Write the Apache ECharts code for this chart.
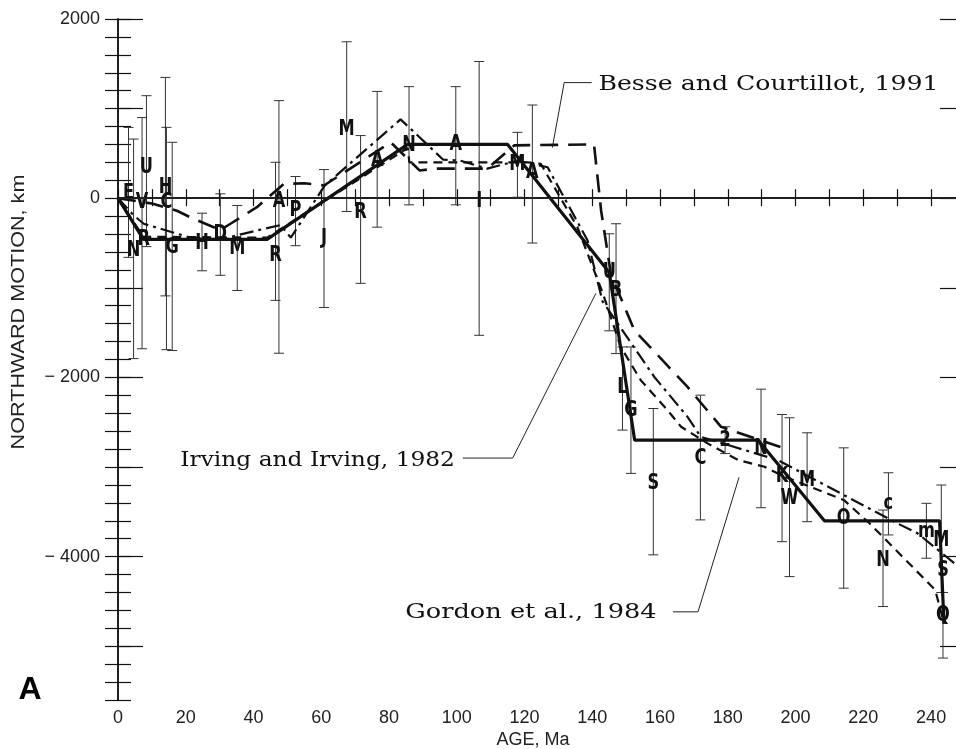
<!DOCTYPE html>
<html><head><meta charset="utf-8">
<script src="https://cdn.jsdelivr.net/npm/echarts@6/dist/echarts.min.js"></script>
<style>html,body{margin:0;padding:0;background:#fff}#c{width:956px;height:749px}</style>
</head><body><div id="c"></div>
<script>
// ---- curves (age Ma, northward motion km) ----
const solidAge = [0, 7.5, 44, 85.5, 115, 145, 152.5, 189, 208.5, 242.5, 243.8];
const solidVal = [0, -460, -460, 600, 600, -830, -2700, -2700, -3600, -3600, -4750];

const besseAge = [0, 10, 17.4, 22.3, 30.2, 33.2, 41, 49, 55, 60.8, 80.5, 89, 94, 109, 117, 140.5, 142.6, 145.5, 152.4, 168.1, 178, 196.7];
const besseVal = [0, -60, -140, -230, -355, -285, -100, 160, 167, 142, 624, 310, 330, 330, 590, 600, -140, -850, -1474, -2106, -2551, -2792];

const irvingAge = [0, 4.6, 7.6, 16, 21, 30, 41, 48, 51, 61, 83.4, 96, 101, 109, 118, 126.8, 138.6, 143, 158.3, 168.1, 172, 194.7, 230, 236, 250];
const irvingVal = [0, -190, -285, -380, -435, -460, -360, -300, -440, 140, 880, 430, 420, 330, 420, 345, -471, -1150, -1995, -2440, -2663, -2922, -3628, -3740, -4170];

const gordonAge = [0, 7.5, 44, 85.5, 86, 117, 121, 124.8, 135.6, 143, 148.4, 154.3, 162.2, 166.2, 174, 183, 190.8, 196.2, 214.3, 221.8, 241.2, 243.5];
const gordonVal = [0, -430, -440, 560, 400, 400, 400, 383, -323, -1050, -1660, -2031, -2365, -2551, -2736, -2922, -2997, -3100, -3370, -3628, -4371, -4700];

// ---- poles: letter, age, value, error low, error high ----
const poleLetter = ['E','N','V','R','U','H','C','G','H','D','M','R','A','P','J','M','R','A','N','A','I','M','A','U','B','L','G','S','C','2','N','K','W','M','O','N','c','m','M','S','Q'];
const poleAge = [3.1,4.6,7.1,7.6,8.4,14,14.3,16,24.8,30.2,35.2,46.5,47.5,52.4,60.8,67.5,71.6,76.5,85.9,99.7,106.6,117.9,122.3,145,147,148.9,151.4,158,171.9,179.2,189.8,196,198.2,203.4,214.2,225.8,227.4,238.6,243,243.5,243.5];
const poleVal = [50,-580,-45,-460,345,122,-45,-546,-508,-397,-564,-638,-37,-137,-452,773,-156,420,587,606,-30,383,290,-824,-1028,-2106,-2366,-3182,-2904,-2700,-2792,-3100,-3350,-3145,-3572,-4037,-3405,-3721,-3814,-4148,-4650];
const poleLo = [-660,-1790,-1680,null,-540,-1090,-1690,-1700,-810,-860,-1030,-1140,-1730,-530,-1220,-148,-950,-323,-74,-74,-1530,11,-500,-1480,-1734,-2588,-3071,-3980,-3590,-2850,-3454,-3833,-4223,-3610,-4352,-4557,-3758,-4018,-4400,null,-5132];
const poleHi = [790,660,900,null,1144,1348,791,624,-167,49,-81,401,1089,242,320,1746,699,1192,1245,1245,1526,735,1040,-397,-285,-1660,-1660,-2347,-2198,-2550,-2131,-2414,-2450,-2618,-2786,-3480,-3064,-3405,-3201,null,-4400];

// ---- axis ticks ----
const xLabelTicks = [0,20,40,60,80,100,120,140,160,180,200,220,240];
const yLabelTicks = [2000,0,-2000,-4000];

// ---- annotations [text, age, value] and leader lines ----
const noteText = ['Besse and Courtillot, 1991', 'Irving and Irving, 1982', 'Gordon et al., 1984'];
const noteAge = [141.8, 18.4, 84.8];
const noteVal = [1270, -2925, -4620];
const leaderBesse = [[139.8,1290],[131.7,1290],[128.2,565]];
const leaderIrving = [[101.8,-2900],[116.5,-2900],[141.05,-1062]];
const leaderGordon = [[163.8,-4616],[171.2,-4616],[183.3,-3115]];

const zip = (a, b) => a.map((v, i) => [v, b[i]]);
const ink = '#111';
const tickFont = {fontFamily: 'Liberation Sans', fontSize: 18, color: '#222'};
const noteStretch = [1.2, 1.11, 1.22];

const barData = poleAge.map((a, i) => [a, poleLo[i], poleHi[i]]).filter(d => d[1] !== null);
const letterData = poleAge.map((a, i) => [a, poleVal[i], poleLetter[i]]);

const chart = echarts.init(document.getElementById('c'), null, {renderer: 'canvas'});

const lineSeries = (name, data, width, dash) => ({
  type: 'line', name, data, xAxisIndex: 0, yAxisIndex: 0,
  symbol: 'none', animation: false, silent: true,
  lineStyle: {color: ink, width, type: dash, cap: 'butt'}
});

const option = {
  animation: false,
  backgroundColor: '#fff',
  grid: [
    {left: 118, top: 19, width: 847, height: 681, outerBoundsMode: 'none', containLabel: false},
    {left: 118, top: 19, width: 847, height: 627.3, outerBoundsMode: 'none', containLabel: false}
  ],
  xAxis: [
    {gridIndex: 0, type: 'value', position: 'bottom', min: 0, max: 250, interval: 20,
     axisLine: {lineStyle: {color: ink, width: 1.5}},
     axisTick: {inside: true, length: 9, lineStyle: {color: ink, width: 1.2}},
     minorTick: {show: true, splitNumber: 2, length: 9, lineStyle: {color: ink, width: 1.2}},
     splitLine: {show: false},
     axisLabel: Object.assign({margin: 9, formatter: v => xLabelTicks.includes(v) ? String(v) : ''}, tickFont)},
    {gridIndex: 0, type: 'value', position: 'top', min: 0, max: 250, interval: 20,
     axisLine: {lineStyle: {color: ink, width: 1.5}},
     axisTick: {inside: true, length: 8, lineStyle: {color: ink, width: 1.2}},
     minorTick: {show: true, splitNumber: 2, length: 8, lineStyle: {color: ink, width: 1.2}},
     splitLine: {show: false}, axisLabel: {show: false}},
    {gridIndex: 1, type: 'value', min: 0, max: 250, show: false}
  ],
  yAxis: [
    {gridIndex: 0, type: 'value', position: 'left', min: -5600, max: 2000, interval: 200,
     axisLine: {show: true, lineStyle: {color: ink, width: 1.5}},
     axisTick: {show: true, inside: true, length: 13, lineStyle: {color: ink, width: 1.2}},
     splitLine: {show: false},
     axisLabel: Object.assign({margin: 18, formatter: v => yLabelTicks.includes(v) ? (v < 0 ? '\u2212 ' + Math.abs(v) : String(v)) : ''}, tickFont)},
    {gridIndex: 0, type: 'value', position: 'right', min: -5600, max: 2000, interval: 200,
     axisLine: {show: true, lineStyle: {color: ink, width: 1.5}},
     axisTick: {show: true, inside: true, length: 13, lineStyle: {color: ink, width: 1.2}},
     splitLine: {show: false}, axisLabel: {show: false}},
    {gridIndex: 1, type: 'value', position: 'left', min: -5000, max: 2000, interval: 1000,
     axisLine: {show: false},
     axisTick: {show: true, inside: true, length: 25, lineStyle: {color: ink, width: 1.2}},
     splitLine: {show: false}, axisLabel: {show: false}},
    {gridIndex: 1, type: 'value', position: 'right', min: -5000, max: 2000, interval: 1000,
     axisLine: {show: false},
     axisTick: {show: true, inside: true, length: 25, lineStyle: {color: ink, width: 1.2}},
     splitLine: {show: false}, axisLabel: {show: false}}
  ],
  series: [
    {type: 'custom', xAxisIndex: 0, yAxisIndex: 0, silent: true, data: barData,
     encode: {x: 0, y: [1, 2]},
     renderItem: (params, api) => {
       const a = api.value(0);
       const p1 = api.coord([a, api.value(1)]);
       const p2 = api.coord([a, api.value(2)]);
       const hw = 5, st = {stroke: '#333', lineWidth: 1};
       return {type: 'group', children: [
         {type: 'line', shape: {x1: p1[0], y1: p1[1], x2: p2[0], y2: p2[1]}, style: st},
         {type: 'line', shape: {x1: p1[0] - hw, y1: p1[1], x2: p1[0] + hw, y2: p1[1]}, style: st},
         {type: 'line', shape: {x1: p2[0] - hw, y1: p2[1], x2: p2[0] + hw, y2: p2[1]}, style: st}
       ]};
     }},
    lineSeries('Gordon', zip(gordonAge, gordonVal), 2.2, [9, 6]),
    lineSeries('Irving', zip(irvingAge, irvingVal), 2.2, [14, 5, 3, 5]),
    lineSeries('Besse', zip(besseAge, besseVal), 2.6, [18, 10]),
    Object.assign(lineSeries('Solid', zip(solidAge, solidVal), 3.2, 'solid'), {
      markLine: {silent: true, symbol: 'none', label: {show: false},
                 lineStyle: {color: '#222', width: 1, type: 'solid'},
                 data: [{yAxis: 0}]}
    }),
    {type: 'custom', xAxisIndex: 0, yAxisIndex: 0, silent: true, data: letterData,
     encode: {x: 0, y: 1},
     renderItem: (params, api) => {
       const p = api.coord([api.value(0), api.value(1)]);
       return {type: 'text', x: p[0], y: p[1], scaleX: 0.82,
         style: {text: letterData[params.dataIndex][2], fill: ink,
                 font: 'bold 22px "DejaVu Sans Condensed", "DejaVu Sans", sans-serif',
                 align: 'center', verticalAlign: 'middle'}};
     }}
  ]
};
chart.setOption(option);

const px = (a, v) => chart.convertToPixel({xAxisIndex: 0, yAxisIndex: 0}, [a, v]);
const leaders = [leaderBesse, leaderIrving, leaderGordon].map(pts => ({
  type: 'polyline', silent: true,
  shape: {points: pts.map(p => px(p[0], p[1]))},
  style: {stroke: '#222', lineWidth: 1, fill: null}
}));
const notes = noteText.map((t, i) => {
  const p = px(noteAge[i], noteVal[i]);
  return {type: 'text', silent: true, x: p[0], y: p[1], scaleX: noteStretch[i],
    style: {text: t, fill: ink, font: '21px "DejaVu Serif", serif', align: 'left', verticalAlign: 'middle'}};
});
chart.setOption({graphic: [
  ...leaders, ...notes,
  {type: 'text', silent: true, x: 533, y: 740,
   style: {text: 'AGE, Ma', fill: '#222', font: '18px "Liberation Sans", sans-serif', align: 'center', verticalAlign: 'middle'}},
  {type: 'text', silent: true, x: 19, y: 312, rotation: Math.PI / 2, scaleX: 1.2,
   style: {text: 'NORTHWARD MOTION, km', fill: '#222', font: '18px "Liberation Sans", sans-serif', align: 'center', verticalAlign: 'middle'}},
  {type: 'text', silent: true, x: 30, y: 690,
   style: {text: 'A', fill: '#000', font: 'bold 32px "Liberation Sans", sans-serif', align: 'center', verticalAlign: 'middle'}}
]});
</script></body></html>
